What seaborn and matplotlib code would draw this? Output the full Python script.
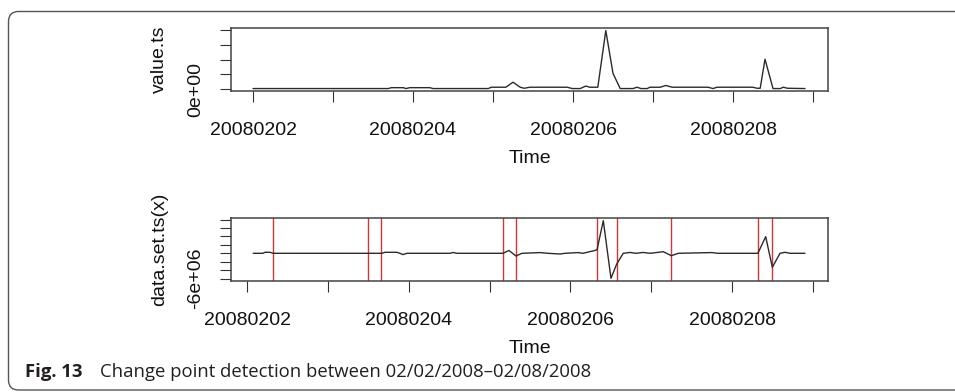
import numpy as np
import pandas as pd
import matplotlib
matplotlib.use("Agg")
import matplotlib.pyplot as plt
from matplotlib.patches import FancyBboxPatch
import seaborn as sns

# ---------------- data ----------------
base_day = 20080202
# top panel: value.ts (day offset from 20080202, value)
top_days = [0.0, 1.69, 1.73, 1.88, 1.91, 1.96, 2.21, 2.25, 2.94, 2.98, 3.16, 3.25, 3.34,
            3.39, 3.46, 3.93, 3.99, 4.09, 4.16, 4.21, 4.31, 4.41, 4.50, 4.59, 4.75, 4.80,
            4.85, 4.93, 4.96, 5.09, 5.16, 5.24, 5.69, 5.75, 5.80, 6.25, 6.30, 6.34, 6.40,
            6.50, 6.59, 6.63, 6.68, 6.90]
top_vals = [0.15, 0.15, 0.45, 0.45, 0.15, 0.45, 0.45, 0.15, 0.15, 0.6, 0.6, 2.3, 0.6,
            0.25, 0.6, 0.6, 0.15, 0.15, 1.0, 0.6, 0.6, 19.8, 5.3, 0.15, 0.15, 0.6,
            0.15, 0.15, 0.6, 0.6, 1.2, 0.6, 0.6, 0.15, 0.6, 0.6, 0.25, 0.25, 10.1,
            0.15, 0.15, 0.6, 0.25, 0.15]  # x 1e6

# bottom panel: data.set.ts(x)
bot_days = [0.074, 0.194, 0.219, 0.281, 0.318, 1.667, 1.704, 1.851, 1.889, 1.926, 1.976,
            2.509, 2.546, 2.595, 3.164, 3.238, 3.325, 3.399, 3.622, 3.721, 3.870, 3.932,
            4.093, 4.155, 4.328, 4.406, 4.501, 4.572, 4.653, 4.736, 4.811, 4.897, 4.984,
            5.071, 5.149, 5.248, 5.334, 5.750, 5.824, 6.319, 6.416, 6.498, 6.593, 6.655,
            6.717, 6.902]
bot_vals = [0, 0, 0.24, 0.24, 0, 0, 0.24, 0.24, 0, -0.3, 0,
            0, 0.2, 0, 0, 0.67, -0.64, 0, 0.17, 0, -0.17, 0,
            0.17, 0, 0.8, 7.76, -5.95, -2.55, 0, 0.2, 0, 0.2, 0,
            0.2, 0.38, -0.57, 0, 0.17, 0, 0, 3.95, -3.33, 0, 0.24,
            0, 0]  # x 1e6

# detected change points (day offsets)
change_days = [0.322, 1.490, 1.655, 3.161, 3.325, 4.328, 4.572, 5.248, 6.320, 6.490]

x_ticks = [20080202, 20080203, 20080204, 20080205, 20080206, 20080207, 20080208, 20080209]
x_tick_labels = ["20080202", "", "20080204", "", "20080206", "", "20080208", ""]
top_yticks = [0, 5e6, 1e7, 1.5e7, 2e7]
top_ytick_labels = ["0e+00", "", "", "", ""]
bot_yticks = [-6e6, -4e6, -2e6, 0, 2e6, 4e6, 6e6, 8e6]
bot_ytick_labels = ["-6e+06", "", "", "", "", "", "", ""]

caption_bold = "Fig. 13"
caption_text = "Change point detection between 02/02/2008\u201302/08/2008"

# ---------------- plotting ----------------
sns.set_style("white")
plt.rcParams["font.family"] = ["Liberation Sans", "DejaVu Sans"]

W, H = 955, 392
fig = plt.figure(figsize=(W / 100, H / 100), dpi=100)

top_df = pd.DataFrame({"time": base_day + np.array(top_days), "value": np.array(top_vals) * 1e6})
bot_df = pd.DataFrame({"time": base_day + np.array(bot_days), "value": np.array(bot_vals) * 1e6})

ax1 = fig.add_axes([231 / W, 1 - 90.7 / H, 597 / W, 62.7 / H])
ax2 = fig.add_axes([231 / W, 1 - 280.7 / H, 597 / W, 62.7 / H])

line_col = "#2b2b2b"
sns.lineplot(data=top_df, x="time", y="value", ax=ax1, color=line_col, linewidth=1.0,
             estimator=None, sort=False)
sns.lineplot(data=bot_df, x="time", y="value", ax=ax2, color=line_col, linewidth=1.0,
             estimator=None, sort=False)
for d in change_days:
    ax2.axvline(base_day + d, color="#d2363a", linewidth=1.0, zorder=1)

ax1.set_xlim(base_day - 0.275, base_day + 7.1875)
ax1.set_ylim(-0.576e6, 20.68e6)
ax2.set_xlim(base_day - 0.2017, base_day + 7.187)
ax2.set_ylim(-6.52e6, 8.40e6)

for ax, yt, ytl, ylab in [(ax1, top_yticks, top_ytick_labels, "value.ts"),
                          (ax2, bot_yticks, bot_ytick_labels, "data.set.ts(x)")]:
    ax.set_xticks(x_ticks)
    ax.set_xticklabels(x_tick_labels, fontsize=14)
    ax.set_yticks(yt)
    ax.set_yticklabels(ytl, fontsize=14, rotation=90, va="center")
    ax.tick_params(axis="both", which="major", direction="out", length=8, width=0.8,
                   color="#333333", labelcolor="#111111", bottom=True, left=True)
    ax.tick_params(axis="x", pad=14.5)
    ax.tick_params(axis="y", pad=11)
    ax.set_xlabel("Time", fontsize=14, color="#111111", labelpad=8)
    ax.set_ylabel(ylab, fontsize=14, color="#111111", labelpad=14)
    for s in ax.spines.values():
        s.set_visible(True)
        s.set_color("#444444")
        s.set_linewidth(1.1)

# outer rounded frame
frame = FancyBboxPatch((8.5 / 100, 2 / 100), (980 - 8.5) / 100, (390 - 11.5) / 100,
                       boxstyle="round,pad=0,rounding_size=0.1",
                       transform=fig.dpi_scale_trans, facecolor="none",
                       edgecolor="#555555", linewidth=1.0, zorder=0)
fig.patches.append(frame)

fig.text(25 / W, 1 - 372 / H, caption_bold, fontsize=13.3, fontweight="bold",
         family=["Open Sans", "DejaVu Sans"], color="#231f20", va="center", ha="left")
fig.text(100 / W, 1 - 372 / H, caption_text, fontsize=13.3,
         family=["Open Sans", "DejaVu Sans"], color="#231f20", va="center", ha="left")

fig.savefig("out.png", dpi=100, facecolor="white")
